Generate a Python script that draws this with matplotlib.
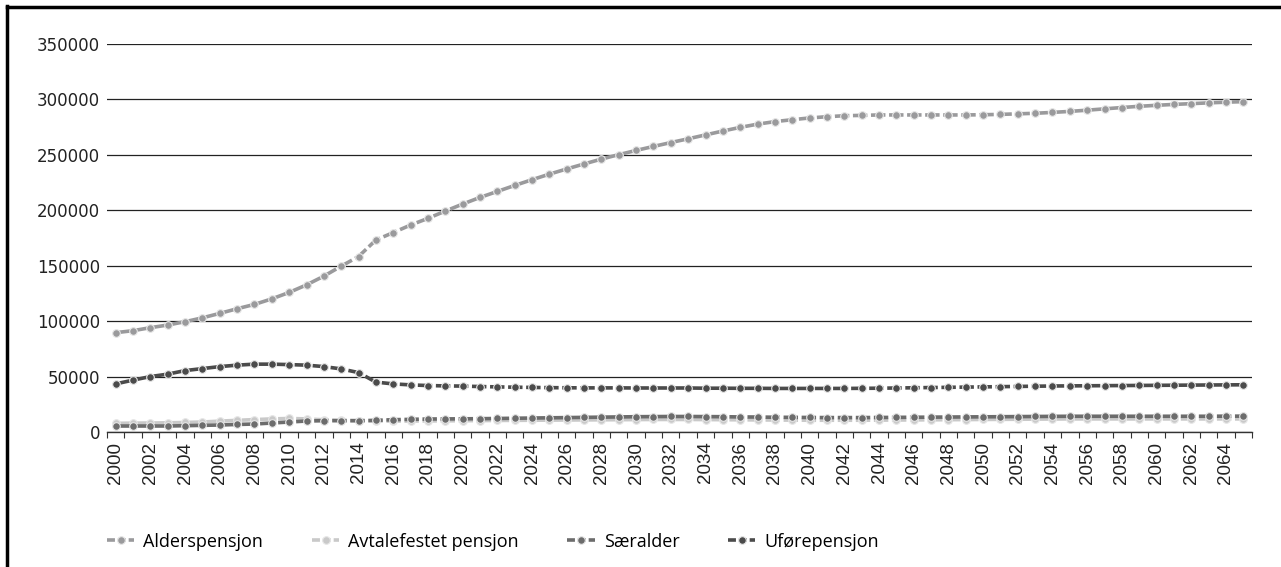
import matplotlib
matplotlib.use("Agg")
from matplotlib import pyplot as plt
from matplotlib.lines import Line2D
import numpy as np

years = list(range(2000, 2066))

alderspensjon = [
    89600, 91400, 94100, 96500, 99500, 103000, 107000, 111200, 115100, 120100,
    125900, 132700, 140600, 149600, 158300, 173200, 179900, 186700, 192700, 199300,
    205600, 211600, 217000, 222400, 227600, 232600, 237300, 241800, 246200, 250200,
    254000, 257600, 261100, 264500, 268000, 271500, 274800, 277700, 280000, 281700,
    283300, 284400, 285300, 285600, 286000, 286000, 286000, 286000, 286000, 286000,
    286200, 286500, 287000, 287500, 288300, 289200, 290300, 291500, 292700, 293800,
    294700, 295500, 296200, 296900, 297500, 298000,
]
avtalefestet = [
    7800, 8000, 8100, 8300, 8600, 9000, 9800, 10500, 11200, 11800,
    12200, 11800, 11000, 10500, 10200, 10000, 9800, 9900, 10000, 10100,
    10200, 10300, 10400, 10500, 10600, 10700, 10800, 10900, 11000, 11100,
    11200, 11300, 11300, 11300, 11200, 11100, 11000, 10900, 10800, 10700,
    10600, 10600, 10600, 10600, 10700, 10800, 10900, 11000, 11100, 11200,
    11300, 11400, 11500, 11600, 11700, 11800, 11800, 11800, 11800, 11800,
    11800, 11800, 11800, 11800, 11800, 11800,
]
saeralder = [
    5400, 5400, 5400, 5400, 5700, 6000, 6300, 6800, 7200, 8100,
    9000, 9900, 10200, 10200, 10200, 10500, 11100, 11400, 11700, 11800,
    11900, 12000, 12200, 12400, 12600, 12800, 13000, 13200, 13400, 13600,
    13800, 13900, 14000, 14000, 13900, 13800, 13600, 13500, 13300, 13200,
    13100, 13000, 13000, 13000, 13100, 13200, 13300, 13400, 13500, 13600,
    13700, 13800, 13900, 14000, 14100, 14200, 14200, 14200, 14200, 14200,
    14200, 14200, 14200, 14200, 14300, 14300,
]
uforepensjon = [
    43400, 46800, 50000, 52200, 55400, 57200, 59000, 60300, 61200, 61200,
    60800, 60300, 59000, 56900, 53600, 45000, 43400, 42500, 41900, 41600,
    41400, 41000, 40700, 40400, 40200, 40000, 39900, 39800, 39800, 39800,
    39700, 39700, 39700, 39700, 39500, 39500, 39400, 39400, 39300, 39300,
    39300, 39300, 39300, 39400, 39500, 39700, 39900, 40100, 40300, 40500,
    40700, 40900, 41100, 41300, 41500, 41600, 41700, 41800, 41900, 42000,
    42100, 42200, 42300, 42400, 42500, 42600,
]

series = [
    ("Alderspensjon", alderspensjon, "#9a9a9c"),
    ("Avtalefestet pensjon", avtalefestet, "#c9c9c9"),
    ("Særalder", saeralder, "#6c6c6c"),
    ("Uførepensjon", uforepensjon, "#4b4b4b"),
]

fig = plt.figure(figsize=(12.81, 5.67), dpi=100)
ax = fig.add_axes([107 / 1281, 1 - 432 / 567, (1252 - 107) / 1281, (432 - 44) / 567])

x = np.arange(len(years))
for label, vals, color in series:
    ax.plot(x, vals, color=color, lw=2.6, ls=(0, (4, 1.0)),
            marker="o", ms=5.5, mfc=color, mec="#e6e6e6", mew=0.8,
            label=label, zorder=3)

ax.set_ylim(0, 350000)
ax.set_yticks(range(0, 350001, 50000))
ax.set_xlim(-0.5, len(years) - 0.5)
ax.grid(axis="y", color="#222222", lw=0.9)
ax.set_axisbelow(True)
for s in ["left", "right", "top"]:
    ax.spines[s].set_visible(False)
ax.spines["bottom"].set_color("#333333")
ax.spines["bottom"].set_linewidth(1.0)
ax.tick_params(axis="y", length=0, pad=5, labelsize=12, labelcolor="#222222")

# ticks sit between the years, labels on every second year
ax.set_xticks(np.arange(-0.5, len(years), 1.0))
ax.set_xticklabels([])
ax.tick_params(axis="x", which="major", length=4, color="#333333")
ax.set_xticks(x[::2], minor=True)
ax.set_xticklabels([str(y) for y in years[::2]], minor=True, rotation=90,
                   fontsize=13.5, family="Liberation Sans", color="#222222")
ax.tick_params(axis="x", which="minor", length=0, pad=7)

handles = [Line2D([0], [0], color=c, lw=2.6, ls=(0, (2.2, 0.8)), marker="o", ms=5.5,
                  mfc=c, mec="#e6e6e6", mew=0.8) for _, _, c in series]
fig.legend(handles, [s[0] for s in series], loc="lower left",
           bbox_to_anchor=(91 / 1281, 0), ncol=4, frameon=False,
           prop={"family": "Open Sans", "size": 13},
           handlelength=1.5, handletextpad=0.5, columnspacing=2.7)

# frame round the figure (left and top edges visible in the original)
fig.add_artist(Line2D([7 / 1281, 7 / 1281], [0, 1 - 6 / 567], transform=fig.transFigure,
                      color="black", lw=2.5))
fig.add_artist(Line2D([7 / 1281, 1], [1 - 7 / 567, 1 - 7 / 567], transform=fig.transFigure,
                      color="black", lw=2.5))

fig.savefig("out.png", dpi=100)
